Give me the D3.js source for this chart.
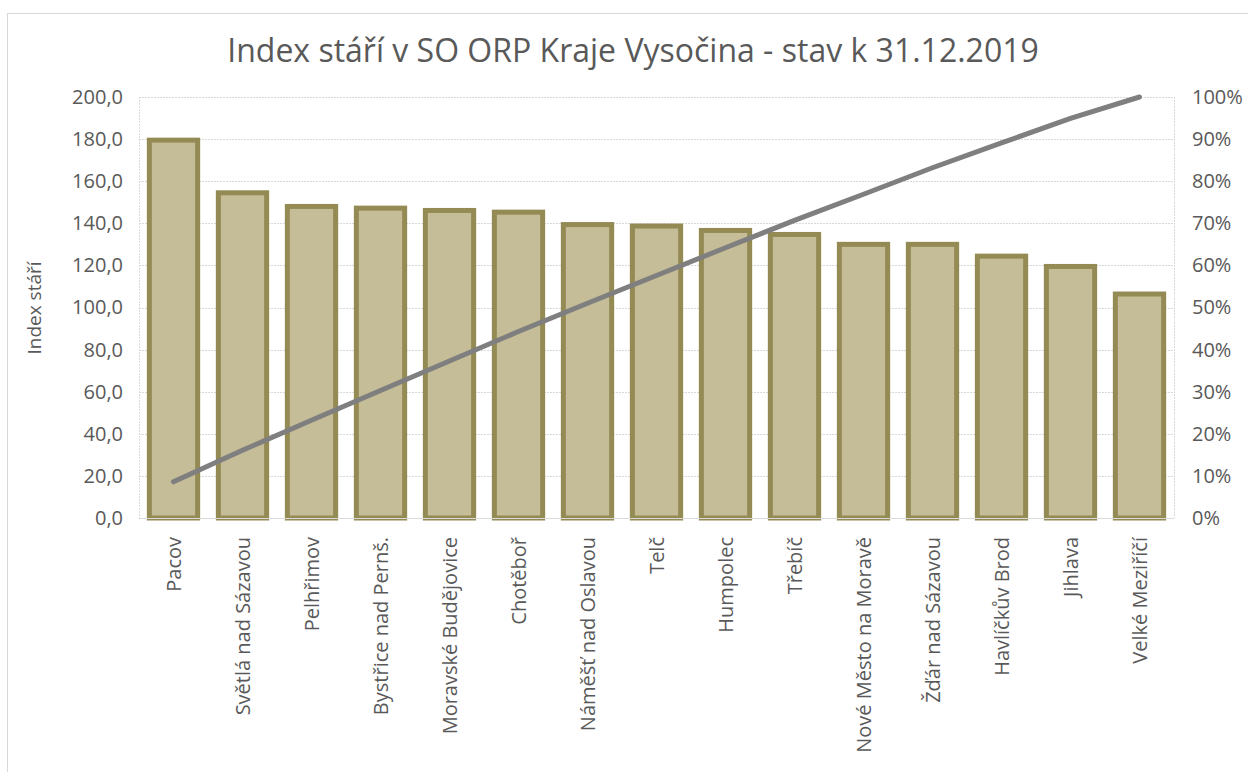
<!DOCTYPE html>
<html>
<head>
<meta charset="utf-8">
<script src="https://cdn.jsdelivr.net/npm/d3@7"></script>
<style>
  body { margin: 0; background: #fff; }
  svg { display: block; font-family: "Open Sans", sans-serif; }
</style>
</head>
<body>
<div id="chart"></div>
<script>
const CATEGORIES = [
    "Pacov", "Světlá nad Sázavou", "Pelhřimov", "Bystřice nad Pernš.",
    "Moravské Budějovice", "Chotěboř", "Náměšť nad Oslavou", "Telč",
    "Humpolec", "Třebíč", "Nové Město na Moravě", "Žďár nad Sázavou",
    "Havlíčkův Brod", "Jihlava", "Velké Meziříčí"
];
const INDEX_VALUES = [179.5, 154.5, 148.0, 147.2, 146.1, 145.3, 139.4, 138.7,
    136.6, 134.7, 130.0, 130.0, 124.4, 119.5, 106.4];
// cumulative share (%)
const CUMULATIVE = [8.6, 16.1, 23.2, 30.3, 37.3, 44.3, 51.0, 57.6,
    64.2, 70.7, 76.9, 83.2, 89.1, 94.9, 100];
const LEFT_TICKS = [0, 20, 40, 60, 80, 100, 120, 140, 160, 180, 200];
const RIGHT_TICKS = [0, 10, 20, 30, 40, 50, 60, 70, 80, 90, 100];

const WIDTH = 1248, HEIGHT = 772;
const MARGIN = { top: 97, right: 74, bottom: 254, left: 139 };
const TEXT = "#595959";
const FONT = "'Open Sans', sans-serif";

const svg = d3.select("#chart").append("svg")
    .attr("width", WIDTH)
    .attr("height", HEIGHT);

// chart frame
svg.append("rect")
    .attr("x", 7.5).attr("y", 13.5)
    .attr("width", WIDTH).attr("height", HEIGHT)
    .attr("fill", "none")
    .attr("stroke", "#d9d9d9");

const w = WIDTH - MARGIN.left - MARGIN.right;
const h = HEIGHT - MARGIN.top - MARGIN.bottom;
const g = svg.append("g")
    .attr("transform", `translate(${MARGIN.left},${MARGIN.top})`);

const x = d3.scaleBand()
    .domain(CATEGORIES)
    .range([0, w])
    .paddingInner(0.3)
    .paddingOuter(0.15);
const yLeft = d3.scaleLinear().domain([0, 200]).range([h, 0]);
const yRight = d3.scaleLinear().domain([0, 100]).range([h, 0]);

// gridlines
g.append("g")
    .selectAll("line")
    .data(LEFT_TICKS.slice(1))
    .join("line")
    .attr("x1", 0).attr("x2", w)
    .attr("y1", d => Math.round(yLeft(d)) + 0.5)
    .attr("y2", d => Math.round(yLeft(d)) + 0.5)
    .attr("stroke", "#d9d9d9")
    .attr("stroke-dasharray", "2,1");

// plot area borders (dashed, left & right)
[0, w].forEach(xx => {
    g.append("line")
        .attr("x1", xx + 0.5).attr("x2", xx + 0.5)
        .attr("y1", 0).attr("y2", h)
        .attr("stroke", "#d9d9d9")
        .attr("stroke-dasharray", "2,1");
});

// bars
g.append("g")
    .selectAll("rect")
    .data(INDEX_VALUES)
    .join("rect")
    .attr("x", (d, i) => x(CATEGORIES[i]))
    .attr("y", d => yLeft(d))
    .attr("width", x.bandwidth())
    .attr("height", d => h - yLeft(d))
    .attr("fill", "#c4bd97")
    .attr("stroke", "#948a54")
    .attr("stroke-width", 5);

// x axis baseline
g.append("line")
    .attr("x1", 0).attr("x2", w)
    .attr("y1", h + 0.5).attr("y2", h + 0.5)
    .attr("stroke", "#d9d9d9");

// cumulative line
g.append("path")
    .datum(CUMULATIVE)
    .attr("fill", "none")
    .attr("stroke", "#7f7f7f")
    .attr("stroke-width", 5)
    .attr("stroke-linecap", "round")
    .attr("d", d3.line()
        .x((d, i) => x(CATEGORIES[i]) + x.bandwidth() / 2)
        .y(d => yRight(d)));

// left axis
const leftAxis = g.append("g")
    .call(d3.axisLeft(yLeft)
        .tickValues(LEFT_TICKS)
        .tickSize(0)
        .tickPadding(16)
        .tickFormat(d => d3.format(".1f")(d).replace(".", ",")));
leftAxis.attr("font-family", FONT).attr("font-size", 20);
leftAxis.select(".domain").remove();
leftAxis.selectAll("text").attr("fill", TEXT);

// right axis
const rightAxis = g.append("g")
    .attr("transform", `translate(${w},0)`)
    .call(d3.axisRight(yRight)
        .tickValues(RIGHT_TICKS)
        .tickSize(0)
        .tickPadding(18)
        .tickFormat(d => d + "%"));
rightAxis.attr("font-family", FONT).attr("font-size", 20);
rightAxis.select(".domain").remove();
rightAxis.selectAll("text").attr("fill", TEXT);

// bottom axis, rotated labels
const bottomAxis = g.append("g")
    .attr("transform", `translate(0,${h})`)
    .call(d3.axisBottom(x).tickSize(0).tickPadding(0));
bottomAxis.attr("font-family", FONT).attr("font-size", 20);
bottomAxis.select(".domain").remove();
bottomAxis.selectAll("text")
    .attr("fill", TEXT)
    .attr("text-anchor", "end")
    .attr("dy", "0.35em")
    .attr("transform", "translate(0,19) rotate(-90)");

// y axis title
svg.append("text")
    .attr("transform", `translate(41, 308) rotate(-90)`)
    .attr("text-anchor", "middle")
    .attr("fill", TEXT)
    .style("font-size", "19px")
    .text("Index stáří");

// chart title
svg.append("text")
    .attr("x", 633)
    .attr("y", 62)
    .attr("text-anchor", "middle")
    .attr("fill", TEXT)
    .style("font-size", "32px")
    .text("Index stáří v SO ORP Kraje Vysočina - stav k 31.12.2019");
</script>
</body>
</html>
